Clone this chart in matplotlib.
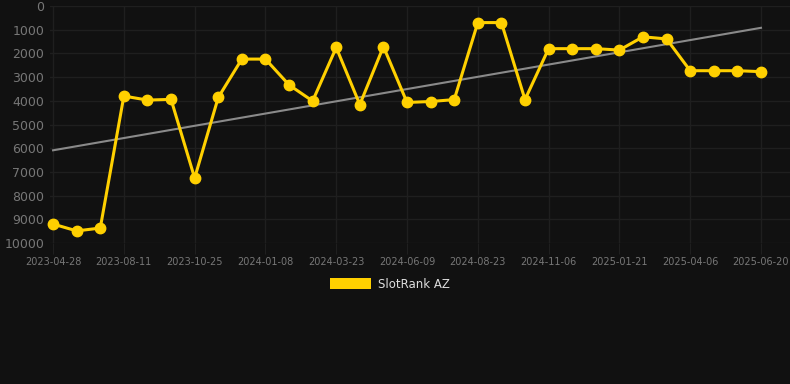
import matplotlib
matplotlib.use("Agg")
from matplotlib import pyplot as plt
from matplotlib.patches import Patch
import numpy as np

# rank values (lower = better, axis inverted)
ranks = [9200, 9490, 9370, 3800, 3970, 3940, 7260, 3860, 2240, 2240,
         3330, 4010, 1750, 4160, 1710, 4070, 4030, 3950, 700, 700,
         3950, 1800, 1800, 1800, 1860, 1300, 1390, 2730, 2730, 2730, 2770]
tick_pos = [0, 3, 6, 9, 12, 15, 18, 21, 24, 27, 30]
tick_labels = ['2023-04-28', '2023-08-11', '2023-10-25', '2024-01-08', '2024-03-23',
               '2024-06-09', '2024-08-23', '2024-11-06', '2025-01-21', '2025-04-06',
               '2025-06-20']
series_name = 'SlotRank AZ'

bg = '#111111'
gold = '#ffd000'
grid_c = '#1f1f1f'

fig = plt.figure(figsize=(7.9, 3.84), dpi=100, facecolor=bg)
ax = fig.add_axes([50/790, 1 - 243/384, 740/790, (243 - 6)/384], facecolor=bg)

x = np.arange(len(ranks))
# linear trend of the series
k, b = np.polyfit(x, ranks, 1)
ax.plot(x, k * x + b, color='#8a8a8a', lw=1.5, zorder=2)

ax.plot(x, ranks, color=gold, lw=2.2, marker='o', ms=7.5, zorder=3, clip_on=False)

ax.set_xlim(-0.13, 31.23)
ax.set_ylim(10000, 0)
ax.set_yticks(range(0, 10001, 1000))
ax.set_xticks(tick_pos)
ax.set_xticklabels(tick_labels)

ax.grid(True, color=grid_c, lw=1)
ax.set_axisbelow(True)
for s in ax.spines.values():
    s.set_visible(False)
ax.tick_params(axis='y', length=0, pad=4, labelsize=9, labelcolor='#777777')
ax.tick_params(axis='x', length=8, color=grid_c, pad=2, labelsize=7, labelcolor='#777777')

leg = fig.legend(handles=[Patch(facecolor=gold, label=series_name)],
                 loc='center', bbox_to_anchor=(390/790, 1 - 284/384),
                 frameon=False, handlelength=3.4, handleheight=1.0,
                 fontsize=8.5, labelcolor='#dddddd', handletextpad=0.6)

fig.savefig('out.png', dpi=100, facecolor=bg)
